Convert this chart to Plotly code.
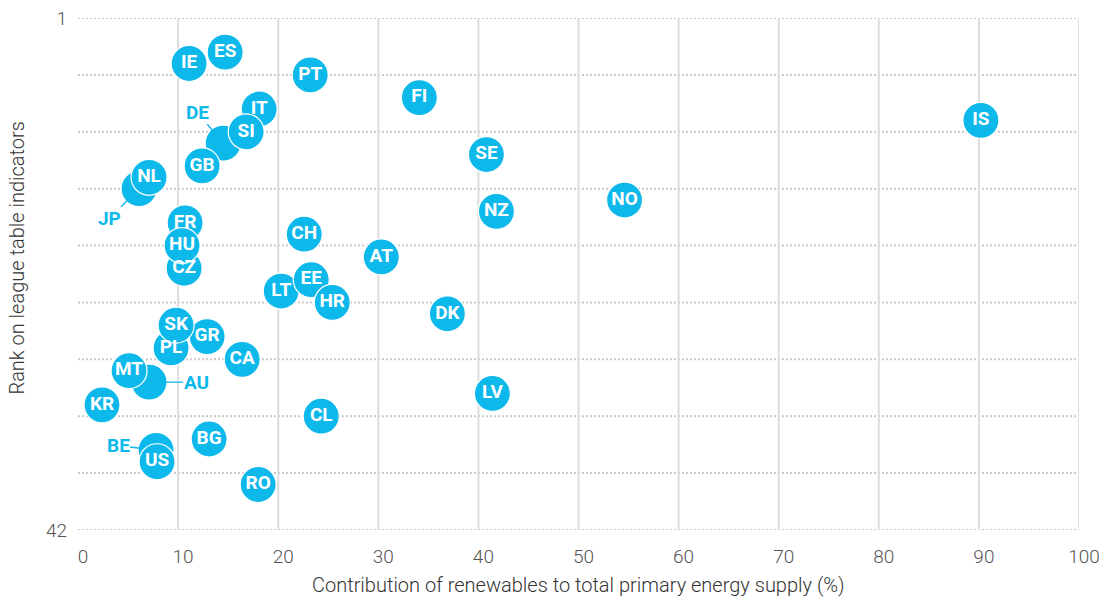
import plotly.graph_objects as go

# ---------------- data ----------------
codes = ["ES", "IE", "PT", "FI", "IT", "IS", "SI", "DE", "SE", "GB", "NL", "JP",
         "NO", "NZ", "FR", "CH", "HU", "AT", "CZ", "EE", "LT", "HR", "DK", "SK",
         "GR", "PL", "CA", "MT", "AU", "LV", "KR", "CL", "BG", "BE", "US", "RO"]
renewables_pct = [14.7, 11.1, 23.2, 34.1, 18.1, 90.2, 16.8, 14.5, 40.8, 12.4, 7.1, 6.1,
                  54.6, 41.8, 10.7, 22.6, 10.4, 30.3, 10.6, 23.3, 20.3, 25.4, 36.9, 9.8,
                  12.9, 9.3, 16.4, 5.1, 7.1, 41.4, 2.4, 24.3, 13.1, 7.8, 7.9, 18.0]
league_rank = [4, 5, 6, 8, 9, 10, 11, 12, 13, 14, 15, 16,
               17, 18, 19, 20, 21, 22, 23, 24, 25, 26, 27, 28,
               29, 30, 31, 32, 33, 34, 35, 36, 38, 39, 40, 42]

x_tick_vals = [0, 10, 20, 30, 40, 50, 60, 70, 80, 90, 100]
y_tick_vals = [1, 46]
y_tick_labels = ["1", "42"]
y_grid_vals = [1, 6, 11, 16, 21, 26, 31, 36, 41, 46]

callout_codes = ["DE", "JP", "AU", "BE"]
callout_offsets = {"DE": (-26, -31), "JP": (-30, 30), "AU": (47, 0), "BE": (-38, -5)}

# drawing order: these go on top of their neighbours
bottom_first = ["DE", "JP", "AU", "BE", "FR", "CZ", "IT", "LT", "PL", "GR"]
top_last = ["EE", "HR", "SI", "GB", "NL", "HU", "SK", "MT", "US"]

# ---------------- style ----------------
BLUE = "#0DB8EB"
FONT = "Roboto"

middle = [c for c in codes if c not in bottom_first and c not in top_last]
order = bottom_first + middle + top_last
idx = [codes.index(c) for c in order]

xs = [renewables_pct[i] for i in idx]
ys = [league_rank[i] for i in idx]
labels = ["" if codes[i] in callout_codes else codes[i] for i in idx]

fig = go.Figure()
fig.add_trace(go.Scatter(
    x=xs, y=ys, mode="markers+text", text=labels,
    textposition="middle center",
    textfont=dict(family=FONT, size=19, color="white", weight="bold"),
    marker=dict(size=36, color=BLUE, line=dict(color="white", width=1.2)),
    cliponaxis=False, hoverinfo="skip", showlegend=False,
))

shapes = []
for v in y_grid_vals:
    shapes.append(dict(type="line", xref="paper", yref="y", x0=0, x1=1, y0=v, y1=v,
                       line=dict(color="#c9c9c9", width=2, dash="2px,2px"), layer="below"))
for v in x_tick_vals[1:]:
    shapes.append(dict(type="line", xref="x", yref="paper", x0=v, x1=v, y0=0, y1=1,
                       line=dict(color="#dddddd", width=2), layer="below"))

annotations = []
for c in callout_codes:
    i = codes.index(c)
    ax, ay = callout_offsets[c]
    annotations.append(dict(
        x=renewables_pct[i], y=league_rank[i], xref="x", yref="y", text=c,
        showarrow=True, arrowhead=0, arrowwidth=1.4, arrowcolor=BLUE,
        ax=ax, ay=ay, standoff=14, borderpad=0,
        font=dict(family=FONT, size=19, color=BLUE, weight="bold"),
    ))

annotations.append(dict(
    text="Contribution of renewables to total primary energy supply (%)",
    xref="paper", yref="paper", x=0.5, y=-0.107, yanchor="middle", xanchor="center",
    showarrow=False, font=dict(family=FONT, size=20, color="#333333", weight=300),
))
annotations.append(dict(
    text="Rank on league table indicators",
    xref="paper", yref="paper", x=-0.0605, xanchor="center", y=0.531, yanchor="middle",
    textangle=-90, showarrow=False,
    font=dict(family=FONT, size=20, color="#333333", weight=300),
))

fig.update_layout(
    width=1100, height=602,
    margin=dict(l=78, r=21, t=18, b=72, autoexpand=False),
    paper_bgcolor="white", plot_bgcolor="white",
    shapes=shapes, annotations=annotations,
    xaxis=dict(range=[0, 100], tickvals=x_tick_vals, showgrid=False, zeroline=False,
               showline=False, ticks="", ticklabelstandoff=13, ticklabelshift=5,
               automargin=False,
               tickfont=dict(family=FONT, size=19, color="#555555", weight=300)),
    yaxis=dict(range=[46, 1], tickvals=y_tick_vals, ticktext=y_tick_labels,
               showgrid=False, zeroline=False, showline=False, ticks="",
               ticklabelstandoff=10, automargin=False,
               tickfont=dict(family=FONT, size=19, color="#555555", weight=300)),
)

fig.write_html("out.html", config={"displayModeBar": False},
               post_script="document.body.style.margin='0';document.body.style.overflow='hidden';")
